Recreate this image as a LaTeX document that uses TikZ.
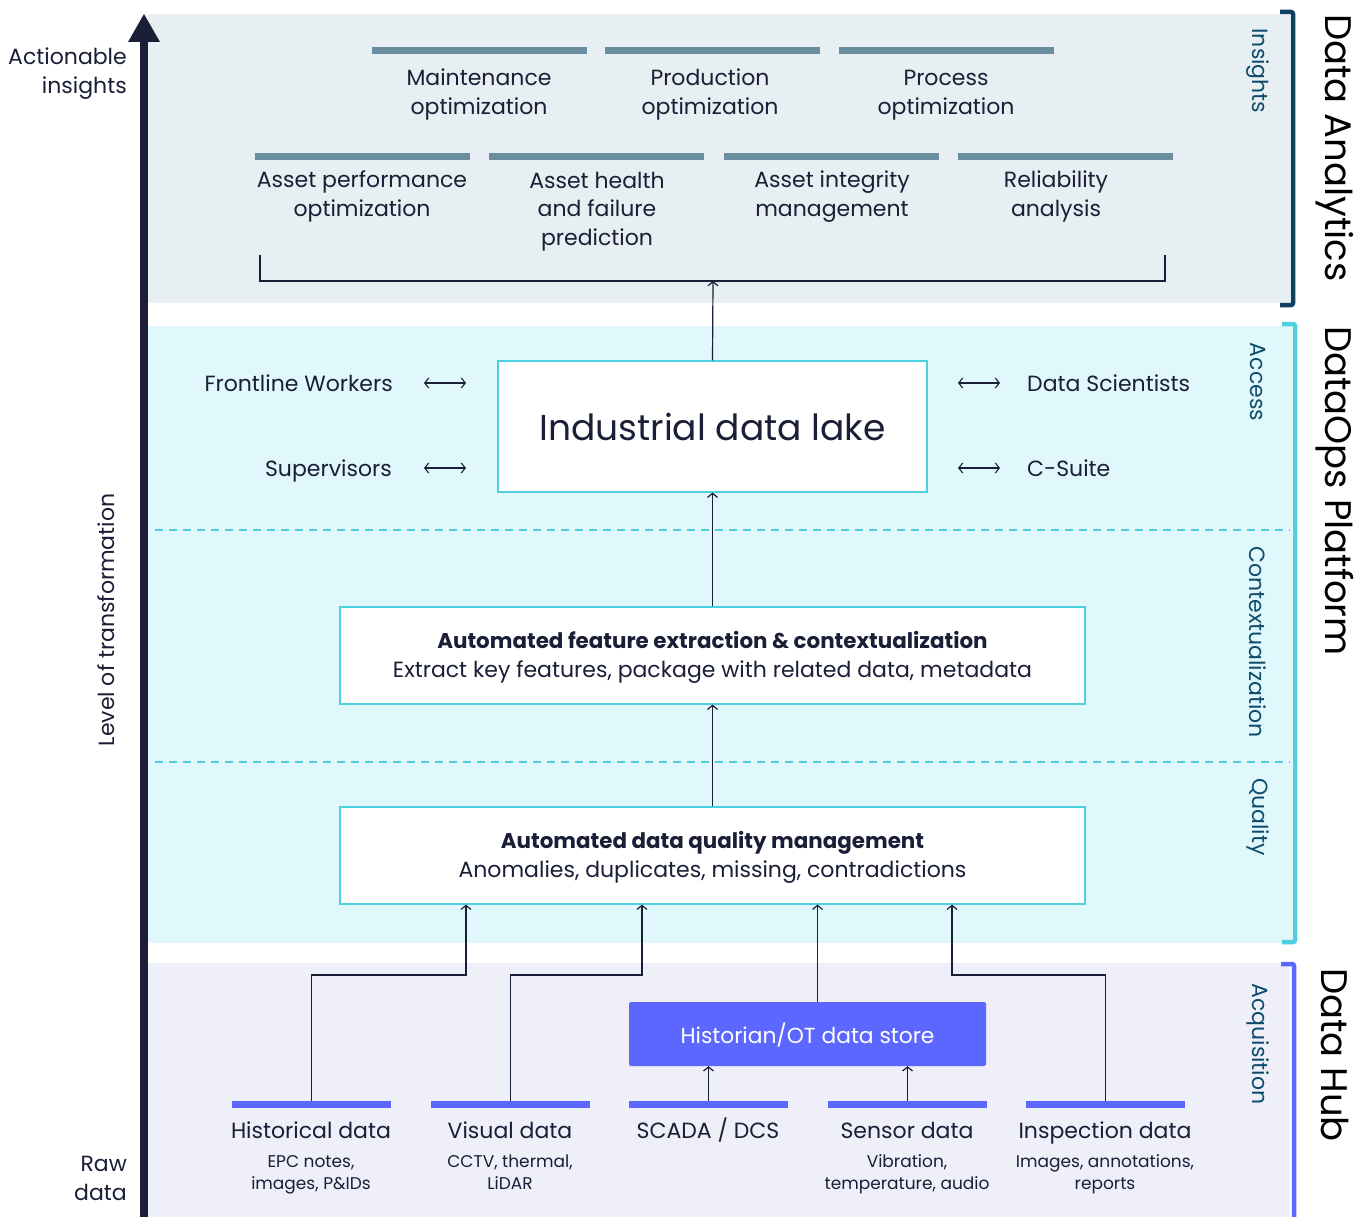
\documentclass[tikz,border=0pt]{standalone}
\usepackage{fontspec}
\setmainfont{Poppins}
\usetikzlibrary{arrows.meta,calc}
\definecolor{ink}{HTML}{1A1E36}
\definecolor{insbg}{HTML}{E8EFF3}
\definecolor{platbg}{HTML}{E0F8FB}
\definecolor{hubbg}{HTML}{EEEFF9}
\definecolor{steel}{HTML}{6B8E9F}
\definecolor{hubblue}{HTML}{5C67FF}
\definecolor{cyanb}{HTML}{4DD0E1}
\definecolor{navyb}{HTML}{0D3F5F}
\definecolor{sect}{HTML}{0F4C6B}
\newcommand\tallst{\rule{0pt}{24.5pt}}
\tikzset{
  lbl/.style={font=\fontsize{22}{29}\selectfont, text=ink, align=center, inner sep=0pt},
  sublbl/.style={font=\fontsize{17}{22}\selectfont, text=ink, align=center, inner sep=0pt},
  sidelbl/.style={font=\fontsize{22}{26}\selectfont, text=sect, rotate=-90, inner sep=0pt},
  biglbl/.style={font=\fontsize{37}{44}\selectfont, text=black, rotate=-90, inner sep=0pt},
  topbar/.style={fill=steel, minimum width=215pt, minimum height=7pt, inner sep=0pt},
  srcbar/.style={fill=hubblue, minimum width=159pt, minimum height=7pt, inner sep=0pt},
  wbox/.style={draw=cyanb, line width=1.3pt, fill=white, inner sep=0pt, align=center, text=ink},
  arr/.style={draw=ink, line width=1.2pt, -{Straight Barb[length=4pt,width=10pt]}},
  darr/.style={draw=ink, line width=1.1pt, {Straight Barb[length=4pt,width=10pt]}-{Straight Barb[length=4pt,width=10pt]}},
  conn/.style={draw=ink, line width=1.2pt},
  brkt/.style={line width=4.5pt, rounded corners=2pt},
  sep/.style={draw=cyanb, line width=1.1pt, dash pattern=on 8pt off 6pt}
}
\begin{document}
\begin{tikzpicture}[x=1pt,y=-1pt]
\useasboundingbox (0,0) rectangle (1368,1217);
% bands
\fill[insbg] (148,14) rectangle (1290,303);
\fill[platbg] (148,326) rectangle (1292,943);
\fill[hubbg] (148,963) rectangle (1290,1217);
% brackets
\draw[brkt, navyb] (1280,12) -- (1293,12) -- (1293,305) -- (1280,305);
\draw[brkt, cyanb] (1282,324) -- (1295,324) -- (1295,942) -- (1282,942);
\draw[brkt, hubblue] (1281,964) -- (1294,964) -- (1294,1225);
% axis
\coordinate (axbot) at (144,1217);
\coordinate (axtop) at (144,40);
\draw[ink, line width=8pt] (axbot) -- (axtop);
\fill[ink] (128,42) -- (144,14) -- (160,42) -- cycle;
\node[lbl, align=right, anchor=east] (act) at (127,73.7) {\strut Actionable\\\strut insights};
\node[lbl, align=right, anchor=east] (raw) at (127,1179.7) {\strut Raw\\\strut data};
\node[lbl, rotate=90] (lev) at (106,620) {Level of transformation};
% insights
\node[topbar] (tb1) at (479.5,50.5) {};
\node[topbar] (tb2) at (712.5,50.5) {};
\node[topbar] (tb3) at (946.5,50.5) {};
\node[lbl] (mo) at (479,94.7) {\strut Maintenance\\\strut optimization};
\node[lbl] (po) at (710,94.7) {\strut Production\\\strut optimization};
\node[lbl] (pr) at (946,94.7) {\strut Process\\\strut optimization};
\node[topbar] (bb1) at (362.5,156.5) {};
\node[topbar] (bb2) at (596.5,156.5) {};
\node[topbar] (bb3) at (831.5,156.5) {};
\node[topbar] (bb4) at (1065.5,156.5) {};
\node[lbl] (apo) at (362,196.7) {\strut Asset performance\\\strut optimization};
\node[lbl] (ahf) at (597,211.2) {\strut Asset health\\\strut and failure\\\strut prediction};
\node[lbl] (aim) at (832,196.7) {\strut Asset integrity\\\strut management};
\node[lbl] (rel) at (1056,196.7) {\strut Reliability\\\strut analysis};
\coordinate (bl) at (260,255);
\coordinate (br) at (1165,255);
\coordinate (bmid) at (713,281);
\draw[conn] (bl) |- (bmid) -| (br);
% platform
\draw[sep] (155,530) -- (1290,530);
\draw[sep] (155,762) -- (1290,762);
\node[wbox, minimum width=429pt, minimum height=131pt, font=\fontsize{36}{44}\selectfont] (lake) at (712.5,426.5) {Industrial data lake};
\node[lbl, anchor=base east] (fw) at (393,391) {Frontline Workers};
\node[lbl, anchor=base east] (sup) at (392,476) {Supervisors};
\node[lbl, anchor=base west] (ds) at (1027,391) {Data Scientists};
\node[lbl, anchor=base west] (cs) at (1027,476) {C-Suite};
\coordinate (fwa) at (424,383);
\coordinate (fwb) at (466,383);
\coordinate (supa) at (424,468);
\coordinate (supb) at (466,468);
\coordinate (dsa) at (958,383);
\coordinate (dsb) at (1000,383);
\coordinate (csa) at (958,468);
\coordinate (csb) at (1000,468);
\draw[darr] (fwa) -- (fwb);
\draw[darr] (supa) -- (supb);
\draw[darr] (dsa) -- (dsb);
\draw[darr] (csa) -- (csb);
\node[wbox, minimum width=745pt, minimum height=97pt, font=\fontsize{22}{29}\selectfont] (feat) at (712.5,655.5) {\tallst{\fontsize{21.4}{29}\selectfont\bfseries Automated feature extraction \& contextualization}\\\strut Extract key features, package with related data, metadata};
\node[wbox, minimum width=745pt, minimum height=97pt, font=\fontsize{22}{29}\selectfont] (qual) at (712.5,855.5) {\tallst{\fontsize{21.4}{29}\selectfont\bfseries Automated data quality management}\\\strut Anomalies, duplicates, missing, contradictions};
\draw[arr] (lake.north) -- (bmid);
\draw[arr] (feat.north) -- (lake.south);
\draw[arr] (qual.north) -- (feat.south);
% hub
\node[fill=hubblue, rounded corners=2pt, minimum width=357pt, minimum height=64pt, inner sep=0pt, text=white, font=\fontsize{21.8}{26}\selectfont, text height=19pt, text depth=0pt] (hist) at (807.5,1034) {Historian/OT data store};
\node[srcbar] (s1) at (311.5,1104.5) {};
\node[srcbar] (s2) at (510.5,1104.5) {};
\node[srcbar] (s3) at (708.5,1104.5) {};
\node[srcbar] (s4) at (907.5,1104.5) {};
\node[srcbar] (s5) at (1105.5,1104.5) {};
\node[lbl, anchor=base] (l1) at (311,1138) {Historical data};
\node[lbl, anchor=base] (l2) at (510,1138) {Visual data};
\node[lbl, anchor=base] (l3) at (708,1138) {SCADA / DCS};
\node[lbl, anchor=base] (l4) at (907,1138) {Sensor data};
\node[lbl, anchor=base] (l5) at (1105,1138) {Inspection data};
\node[sublbl] (d1) at (311,1173.6) {\strut EPC notes,\\\strut images, P\&IDs};
\node[sublbl] (d2) at (510,1173.6) {\strut CCTV, thermal,\\\strut LiDAR};
\node[sublbl] (d4) at (907,1173.6) {\strut Vibration,\\\strut temperature, audio};
\node[sublbl] (d5) at (1105,1173.6) {\strut Images, annotations,\\\strut reports};
\coordinate (row) at (0,975);
\path (qual.south) ++(-246.5,0) coordinate (q1);
\path (qual.south) ++(-70.5,0) coordinate (q2);
\path (qual.south) ++(105,0) coordinate (q3);
\path (qual.south) ++(239.5,0) coordinate (q4);
\draw[arr] (s1.north) |- (q1 |- row) -- (q1);
\draw[arr] (s2.north) |- (q2 |- row) -- (q2);
\draw[arr] (hist.north -| q3) -- (q3);
\draw[arr] (s5.north) |- (q4 |- row) -- (q4);
\draw[arr] (s3.north) -- (s3.north |- hist.south);
\draw[arr] (s4.north) -- (s4.north |- hist.south);
% side labels
\node[sidelbl] (si1) at (1258,71) {Insights};
\node[sidelbl] (si2) at (1258,382) {Access};
\node[sidelbl] (si3) at (1258,642) {Contextualization};
\node[sidelbl] (si4) at (1258,817) {Quality};
\node[sidelbl] (si5) at (1258,1044) {Acquisition};
\node[biglbl] (g1) at (1335,148) {Data Analytics};
\node[biglbl] (g2) at (1335,491) {DataOps Platform};
\node[biglbl] (g3) at (1335,1055) {Data Hub};
\end{tikzpicture}
\end{document}
